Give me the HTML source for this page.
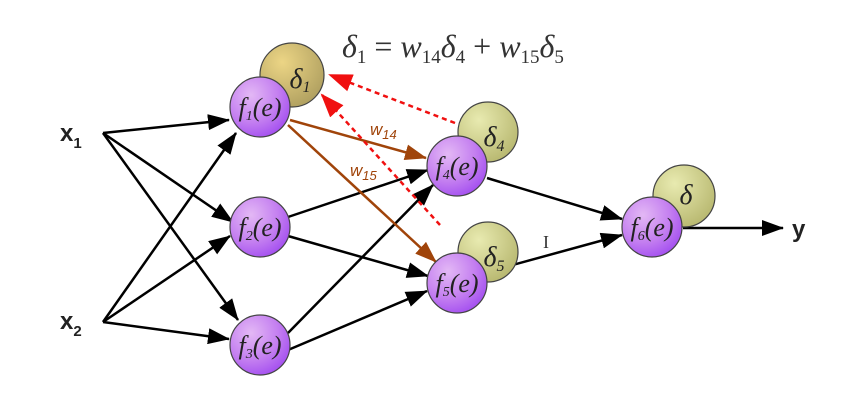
<!DOCTYPE html>
<html><head><meta charset="utf-8"><style>
html,body{margin:0;padding:0;background:#fff;width:859px;height:420px;overflow:hidden}
svg text{font-family:"Liberation Serif",serif}
</style></head><body>
<svg width="859" height="420" viewBox="0 0 859 420" xmlns="http://www.w3.org/2000/svg">
<defs>
<marker id="ab" markerWidth="22" markerHeight="16" refX="21" refY="8" orient="auto" markerUnits="userSpaceOnUse"><path d="M0,0 L22,8 L0,16 z" fill="#000"/></marker>
<marker id="ob" markerWidth="22" markerHeight="16" refX="21" refY="8" orient="auto" markerUnits="userSpaceOnUse"><path d="M0,0 L22,8 L0,16 z" fill="#a0440a"/></marker>
<marker id="rb" markerWidth="24" markerHeight="18" refX="22" refY="9" orient="auto" markerUnits="userSpaceOnUse"><path d="M0,0 L24,9 L0,18 z" fill="#f01010"/></marker>
<radialGradient id="p" cx="35%" cy="30%" r="75%"><stop offset="0" stop-color="#e3b8f5"/><stop offset="0.6" stop-color="#c47ff0"/><stop offset="1" stop-color="#a450f0"/></radialGradient>
<radialGradient id="g" cx="35%" cy="30%" r="75%"><stop offset="0" stop-color="#e8eab0"/><stop offset="1" stop-color="#b8b870"/></radialGradient>
<radialGradient id="y" cx="35%" cy="30%" r="75%"><stop offset="0" stop-color="#ecd585"/><stop offset="1" stop-color="#b0a060"/></radialGradient>
</defs>
<g stroke="#000" stroke-width="2.5" fill="none" marker-end="url(#ab)">
<line x1="103" y1="133" x2="229" y2="120"/>
<line x1="103" y1="133" x2="233" y2="222"/>
<line x1="103" y1="133" x2="238" y2="320"/>
<line x1="103" y1="322" x2="236" y2="133"/>
<line x1="103" y1="322" x2="230" y2="236"/>
<line x1="103" y1="322" x2="229" y2="339"/>
<line x1="288" y1="217" x2="428" y2="170"/>
<line x1="288" y1="236" x2="428" y2="276"/>
<line x1="288" y1="333" x2="433" y2="185"/>
<line x1="288" y1="350" x2="427" y2="291"/>
<line x1="487" y1="178" x2="622" y2="219"/>
<line x1="487" y1="272" x2="622" y2="235"/>
<line x1="683" y1="228" x2="783" y2="228"/>
</g>
<g stroke="#a0440a" stroke-width="2.5" marker-end="url(#ob)">
<line x1="290" y1="120" x2="426" y2="158"/>
<line x1="288" y1="125" x2="436" y2="262"/>
</g>
<g stroke="#f01010" stroke-width="2.5" stroke-dasharray="5,4" marker-end="url(#rb)">
<line x1="455" y1="123" x2="330" y2="75"/>
<line x1="440" y1="225" x2="322" y2="95"/>
</g>
<circle cx="292" cy="75" r="32" fill="url(#y)" stroke="#444" stroke-width="1.2"/>
<circle cx="488" cy="132" r="30" fill="url(#g)" stroke="#444" stroke-width="1.2"/>
<circle cx="488" cy="252" r="30" fill="url(#g)" stroke="#444" stroke-width="1.2"/>
<circle cx="684" cy="196" r="31" fill="url(#g)" stroke="#444" stroke-width="1.2"/>
<g font-style="italic" font-size="28" fill="#222" text-anchor="middle">
<text x="300" y="88">δ<tspan font-size="16" dy="4">1</tspan></text>
<text x="494" y="146">δ<tspan font-size="16" dy="5">4</tspan></text>
<text x="494" y="266">δ<tspan font-size="16" dy="5">5</tspan></text>
<text x="686" y="204">δ</text>
</g>
<g fill="url(#p)" stroke="#444" stroke-width="1.2">
<circle cx="260" cy="107" r="30"/><circle cx="260" cy="227" r="30"/><circle cx="260" cy="345" r="30"/>
<circle cx="457" cy="166" r="30"/><circle cx="457" cy="283" r="30"/><circle cx="652" cy="227" r="30"/>
</g>
<g font-style="italic" font-size="26" fill="#222" text-anchor="middle">
<text x="260" y="116">f<tspan font-size="14" dy="4">1</tspan><tspan dy="-4">(e)</tspan></text>
<text x="260" y="236">f<tspan font-size="14" dy="4">2</tspan><tspan dy="-4">(e)</tspan></text>
<text x="260" y="354">f<tspan font-size="14" dy="4">3</tspan><tspan dy="-4">(e)</tspan></text>
<text x="457" y="175">f<tspan font-size="14" dy="4">4</tspan><tspan dy="-4">(e)</tspan></text>
<text x="457" y="292">f<tspan font-size="14" dy="4">5</tspan><tspan dy="-4">(e)</tspan></text>
<text x="652" y="236">f<tspan font-size="14" dy="4">6</tspan><tspan dy="-4">(e)</tspan></text>
</g>
<g fill="#a0440a" font-size="17" font-style="italic">
<text x="370" y="135" style="font-family:'Liberation Sans',sans-serif">w<tspan font-size="13" dy="4">14</tspan></text>
<text x="350" y="176" style="font-family:'Liberation Sans',sans-serif">w<tspan font-size="13" dy="4">15</tspan></text>
</g>
<g font-size="24" font-weight="bold" fill="#222">
<text x="60" y="141" style="font-family:'Liberation Sans',sans-serif">x<tspan font-size="15" dy="7">1</tspan></text>
<text x="60" y="329" style="font-family:'Liberation Sans',sans-serif">x<tspan font-size="15" dy="7">2</tspan></text>
<text x="792" y="237" style="font-family:'Liberation Sans',sans-serif">y</text>
</g>
<text x="543" y="248" font-size="18" fill="#333">I</text>
<text x="342" y="57" font-size="32" fill="#333" font-style="italic">δ<tspan font-size="19" dy="6" font-style="normal">1</tspan><tspan dy="-6" font-style="normal"> = </tspan>w<tspan font-size="19" dy="6" font-style="normal">14</tspan><tspan dy="-6">δ</tspan><tspan font-size="19" dy="6" font-style="normal">4</tspan><tspan dy="-6" font-style="normal"> + </tspan>w<tspan font-size="19" dy="6" font-style="normal">15</tspan><tspan dy="-6">δ</tspan><tspan font-size="19" dy="6" font-style="normal">5</tspan></text>
</svg>
</body></html>
